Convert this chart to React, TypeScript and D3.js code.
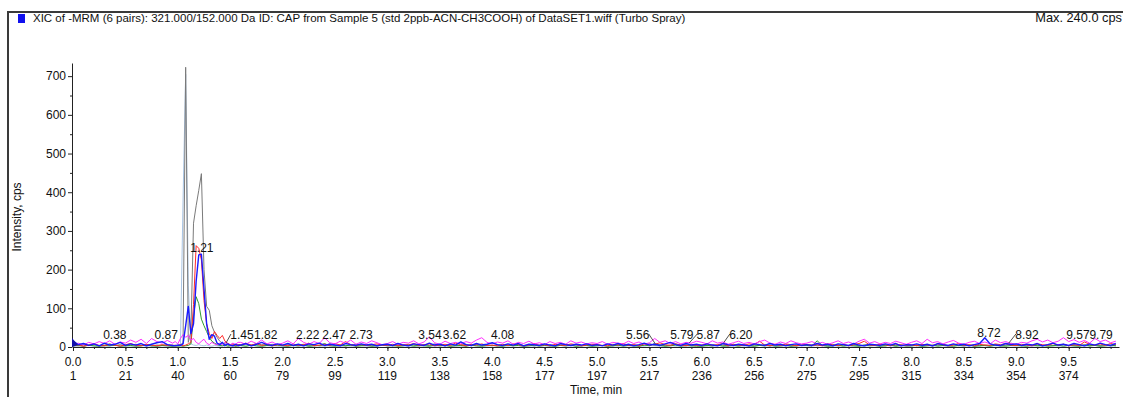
import { useEffect, useRef } from "react";
import * as d3 from "d3";

const WIDTH = 1123;
const HEIGHT = 397;

const title =
  "XIC of -MRM (6 pairs): 321.000/152.000 Da ID: CAP from Sample 5 (std 2ppb-ACN-CH3COOH) of DataSET1.wiff (Turbo Spray)";
const maxLabel = "Max. 240.0 cps";

// sampling grid (min): every other scan on the baseline, every scan across the peak
const times = [
  ...d3.range(0, 0.95, 0.05),
  ...d3.range(0.95, 1.5875, 0.025),
  ...d3.range(1.6, 9.975, 0.05),
];

// intensities, cps (lead 0.0-0.9 | peak 0.95-1.575 | tail 1.6-9.95, one row per minute)
const blue = [
  15, 6, 9, 4, 8, 3, 10, 5, 7, 12, 4, 8, 5, 9, 3, 7, 11, 14, 6,
  4, 3, 5, 4, 8, 55, 105, 35, 60, 170, 238, 240, 150, 60, 20, 32, 28, 10, 6, 12, 4, 8, 5, 3, 7, 4,
  5, 9, 3, 7, 12, 6, 4, 8,
  5, 9, 4, 7, 3, 8, 6, 10, 4, 7, 5, 3, 9, 6, 4, 8, 5, 7, 3, 6,
  7, 4, 9, 5, 3, 8, 6, 4, 10, 5, 7, 3, 8, 5, 13, 6, 4, 9, 5, 7,
  11, 6, 4, 8, 5, 9, 3, 7, 6, 4, 8, 5, 3, 9, 6, 4, 7, 5, 8, 4,
  6, 3, 8, 5, 9, 4, 7, 3, 6, 10, 5, 7, 4, 8, 12, 6, 4, 9, 5, 7,
  4, 8, 5, 3, 9, 6, 4, 7, 5, 3, 8, 6, 4, 9, 5, 7, 3, 6, 8, 4,
  6, 4, 9, 5, 7, 3, 8, 6, 4, 9, 5, 3, 7, 6, 4, 8, 5, 9, 3, 6,
  5, 8, 4, 7, 3, 9, 6, 4, 8, 5, 7, 3, 6, 9, 24, 8, 5, 4, 9, 6,
  8, 4, 7, 5, 9, 3, 6, 10, 5, 7, 4, 9, 6, 3, 8, 5, 10, 6, 4, 9,
];
const red = [
  3, 6, 2, 5, 8, 4, 3, 7, 5, 2, 6, 9, 4, 3, 7, 5, 3, 6, 4,
  5, 3, 4, 6, 3, 5, 8, 12, 110, 262, 255, 225, 120, 60, 35, 22, 40, 30, 22, 30, 15, 10, 6, 8, 4, 6,
  6, 10, 5, 8, 4, 7, 3, 6,
  5, 3, 8, 4, 6, 10, 3, 5, 7, 4, 9, 5, 14, 6, 3, 7, 4, 6, 8, 5,
  4, 7, 3, 6, 5, 9, 4, 6, 8, 3, 5, 7, 4, 10, 6, 3, 7, 5, 8, 4,
  5, 3, 7, 4, 8, 6, 3, 5, 9, 4, 6, 3, 7, 5, 4, 8, 6, 3, 5, 7,
  6, 4, 3, 7, 5, 9, 4, 6, 3, 8, 5, 7, 11, 6, 4, 8, 5, 3, 7, 4,
  5, 8, 4, 6, 9, 3, 7, 5, 4, 8, 6, 15, 5, 3, 7, 4, 8, 6, 3, 5,
  7, 4, 6, 3, 8, 5, 4, 7, 3, 6, 9, 15, 5, 4, 7, 6, 3, 8, 5, 4,
  6, 3, 7, 5, 4, 8, 6, 3, 5, 9, 4, 6, 3, 7, 5, 4, 8, 6, 9, 5,
  4, 7, 5, 3, 8, 6, 4, 9, 5, 7, 3, 6, 4, 13, 7, 5, 8, 4, 9, 6,
];
const green = [
  3, 4, 2, 5, 3, 2, 4, 3, 5, 2, 3, 4, 2, 3, 5, 3, 2, 4, 3,
  2, 3, 2, 3, 2, 3, 4, 8, 80, 130, 112, 72, 55, 40, 25, 15, 10, 6, 4, 3, 5, 2, 3, 4, 2, 3,
  4, 2, 5, 3, 2, 4, 3, 5,
  3, 2, 4, 3, 5, 2, 3, 4, 9, 3, 2, 4, 3, 5, 2, 3, 4, 2, 3, 5,
  3, 4, 2, 3, 5, 2, 4, 3, 2, 5, 3, 4, 2, 3, 4, 2, 5, 3, 2, 4,
  4, 3, 2, 5, 3, 4, 2, 3, 5, 2, 4, 3, 2, 4, 3, 5, 2, 3, 4, 2,
  3, 4, 2, 3, 5, 2, 4, 3, 2, 5, 3, 9, 4, 2, 3, 5, 2, 4, 3, 2,
  2, 4, 3, 5, 2, 3, 4, 2, 5, 3, 2, 4, 3, 5, 2, 3, 4, 2, 3, 5,
  4, 3, 16, 4, 2, 3, 5, 2, 4, 3, 2, 5, 3, 4, 2, 3, 5, 2, 4, 3,
  3, 4, 2, 3, 5, 2, 4, 3, 2, 4, 3, 5, 2, 3, 4, 2, 5, 3, 2, 4,
  4, 3, 2, 5, 3, 4, 2, 3, 5, 2, 4, 3, 2, 5, 3, 4, 2, 3, 5, 3,
];
const grey = [
  5, 3, 6, 4, 7, 3, 5, 8, 4, 6, 3, 5, 7, 4, 6, 3, 5, 4, 6,
  3, 5, 4, 6, 10, 723, 12, 40, 320, 365, 405, 448, 200, 105, 95, 55, 38, 25, 15, 10, 8, 6, 4, 6, 3, 5,
  5, 8, 4, 9, 6, 4, 7, 5,
  4, 6, 3, 5, 7, 4, 6, 3, 5, 8, 4, 6, 3, 5, 7, 4, 6, 3, 5, 4,
  6, 3, 5, 4, 7, 5, 3, 6, 4, 8, 5, 3, 6, 4, 5, 7, 3, 6, 4, 5,
  3, 6, 4, 5, 3, 7, 4, 6, 3, 5, 4, 6, 3, 5, 7, 4, 6, 3, 5, 4,
  5, 4, 6, 3, 5, 7, 4, 6, 3, 5, 9, 4, 6, 3, 5, 8, 4, 6, 3, 5,
  5, 3, 6, 4, 5, 3, 7, 4, 6, 3, 5, 4, 6, 3, 5, 4, 7, 3, 5, 4,
  4, 6, 3, 5, 4, 7, 3, 5, 4, 6, 3, 5, 7, 4, 6, 3, 5, 4, 6, 3,
  3, 5, 4, 6, 3, 5, 7, 4, 6, 3, 5, 4, 6, 3, 5, 4, 6, 3, 5, 10,
  5, 3, 6, 4, 5, 3, 6, 4, 5, 7, 3, 5, 4, 6, 3, 5, 4, 6, 3, 5,
];
const lightBlue = [
  2, 3, 2, 4, 2, 3, 2, 3, 4, 2, 3, 2, 3, 4, 2, 3, 2, 3, 2,
  2, 3, 3, 5, 380, 705, 160, 8, 5, 4, 6, 4, 3, 5, 3, 2, 4, 3, 2, 3, 2, 4, 3, 2, 3, 2,
  3, 2, 4, 3, 2, 3, 4, 2,
  2, 3, 4, 2, 3, 2, 4, 3, 2, 3, 4, 2, 3, 2, 3, 4, 2, 3, 2, 4,
  3, 2, 4, 3, 2, 3, 2, 4, 3, 2, 3, 4, 2, 3, 2, 3, 4, 2, 3, 2,
  4, 2, 3, 2, 4, 3, 2, 3, 2, 4, 3, 2, 3, 4, 2, 3, 2, 4, 3, 2,
  3, 4, 2, 3, 2, 4, 3, 2, 3, 2, 4, 3, 2, 3, 4, 2, 3, 2, 3, 4,
  2, 3, 2, 4, 3, 2, 3, 4, 2, 3, 2, 4, 3, 2, 3, 2, 4, 3, 2, 3,
  3, 2, 4, 3, 2, 3, 2, 4, 3, 2, 3, 2, 4, 3, 2, 4, 3, 2, 3, 2,
  4, 3, 2, 3, 2, 4, 3, 2, 3, 4, 2, 3, 2, 4, 3, 2, 3, 2, 4, 3,
  2, 4, 3, 2, 3, 2, 4, 3, 2, 3, 4, 2, 3, 2, 3, 4, 2, 3, 2, 3,
];
const magenta = [
  6, 10, 5, 12, 8, 14, 9, 16, 7, 13, 10, 18, 12, 20, 9, 22, 14, 10, 17,
  10, 14, 8, 22, 32, 25, 30, 18, 22, 12, 8, 15, 20, 10, 6, 12, 8, 5, 10, 6, 12, 8, 5, 10, 7, 12,
  12, 7, 15, 9, 18, 8, 13, 6,
  10, 16, 8, 22, 12, 7, 14, 9, 24, 11, 8, 15, 10, 18, 7, 13, 9, 16, 11, 6,
  9, 14, 7, 12, 10, 16, 8, 13, 26, 11, 7, 15, 9, 12, 8, 14, 10, 18, 24, 12,
  8, 13, 10, 16, 7, 12, 9, 15, 8, 11, 6, 14, 9, 12, 7, 16, 10, 13, 8, 11,
  9, 14, 7, 12, 10, 8, 15, 9, 13, 7, 11, 22, 12, 16, 9, 14, 8, 12, 10, 15,
  12, 8, 16, 10, 13, 7, 11, 15, 9, 12, 8, 14, 18, 10, 7, 13, 9, 16, 11, 8,
  10, 14, 8, 12, 7, 11, 16, 9, 13, 8, 15, 20, 10, 14, 8, 12, 9, 15, 11, 7,
  12, 16, 9, 20, 11, 14, 8, 13, 17, 10, 7, 12, 15, 9, 13, 8, 18, 11, 14, 9,
  7, 12, 10, 16, 20, 13, 18, 11, 15, 24, 14, 19, 12, 17, 10, 22, 14, 18, 11, 15,
];

const peakTimes = [
  0.38, 0.87, 1.21, 1.45, 1.82, 2.22, 2.47, 2.73, 3.54, 3.62, 4.08, 5.56, 5.79, 5.87, 6.2, 8.72, 8.92, 9.57, 9.79,
];

const yTicks = [0, 100, 200, 300, 400, 500, 600, 700];
const xTicks = [0, 0.5, 1, 1.5, 2, 2.5, 3, 3.5, 4, 4.5, 5, 5.5, 6, 6.5, 7, 7.5, 8, 8.5, 9, 9.5];
const scanLabels = [
  "1", "21", "40", "60", "79", "99", "119", "138", "158", "177",
  "197", "217", "236", "256", "275", "295", "315", "334", "354", "374",
];

// label nudges (px) where the software moved a label off its peak
const labelShift: Record<string, number> = {
  "1.45": 17, "3.54": -14, "5.56": -18, "5.87": 20, "6.20": 18, "8.92": 19,
};
const leaderLabels = ["1.45", "5.56", "5.87", "6.20", "8.92"];

export default function App() {
  const svgRef = useRef<SVGSVGElement>(null);

  useEffect(() => {
    if (!svgRef.current) return;
    const svg = d3.select(svgRef.current);
    svg.selectAll("*").remove();

    const font = "'Liberation Sans', Arial, sans-serif";
    const x = d3.scaleLinear().domain([0, 9.98]).range([73, 1119]);
    const y = d3.scaleLinear().domain([0, 734]).range([347, 63]);

    // frame
    svg
      .append("path")
      .attr("d", `M8,${HEIGHT} V12 H${WIDTH}`)
      .attr("fill", "none")
      .attr("stroke", "#3a3a3a")
      .attr("stroke-width", 2);

    // header
    svg.append("rect").attr("x", 18).attr("y", 14).attr("width", 7).attr("height", 9).attr("fill", "#1010ee");
    svg
      .append("text")
      .attr("x", 33)
      .attr("y", 22)
      .attr("font-family", font)
      .attr("font-size", 11.5)
      .attr("fill", "#111")
      .text(title);
    svg
      .append("text")
      .attr("x", 1122)
      .attr("y", 22)
      .attr("text-anchor", "end")
      .attr("font-family", font)
      .attr("font-size", 12.8)
      .attr("fill", "#111")
      .text(maxLabel);

    // y axis
    const yAxis = svg
      .append("g")
      .attr("transform", "translate(72,0)")
      .call(d3.axisLeft(y).tickValues(yTicks).tickSize(4).tickSizeOuter(0).tickPadding(2));
    svg
      .append("g")
      .attr("transform", "translate(72,0)")
      .call(d3.axisLeft(y).tickValues(d3.range(50, 750, 100)).tickSize(2).tickFormat(() => ""))
      .select(".domain")
      .remove();

    // x axis
    const xAxis = svg
      .append("g")
      .attr("transform", "translate(0,347)")
      .call(d3.axisBottom(x).tickValues(xTicks).tickSize(4).tickSizeOuter(0).tickFormat(() => ""));
    svg
      .append("g")
      .attr("transform", "translate(0,347)")
      .call(d3.axisBottom(x).tickValues(d3.range(0.1, 9.95, 0.1)).tickSize(2).tickFormat(() => ""))
      .select(".domain")
      .remove();

    [yAxis, xAxis].forEach((g) => {
      g.select(".domain").attr("stroke", "#222");
      g.selectAll("text").attr("font-family", font).attr("font-size", 12).attr("fill", "#111");
    });
    svg.selectAll("g line").attr("stroke", "#222");

    const xLabels = svg
      .append("g")
      .attr("font-family", font)
      .attr("font-size", 12)
      .attr("fill", "#111")
      .attr("text-anchor", "middle");
    xLabels
      .selectAll(".t")
      .data(xTicks)
      .join("text")
      .attr("x", (d) => x(d))
      .attr("y", 366)
      .text((d) => d.toFixed(1));
    xLabels
      .selectAll(".s")
      .data(scanLabels)
      .join("text")
      .attr("x", (_, i) => x(xTicks[i]))
      .attr("y", 380)
      .text((d) => d);
    xLabels.append("text").attr("x", 596).attr("y", 394).text("Time, min");

    svg
      .append("text")
      .attr("transform", "translate(21,217) rotate(-90)")
      .attr("text-anchor", "middle")
      .attr("font-family", font)
      .attr("font-size", 12)
      .attr("fill", "#111")
      .text("Intensity, cps");

    // traces
    const series = [
      { name: "lightBlue", color: "#a8c4e4", values: lightBlue },
      { name: "grey", color: "#7a7a7a", values: grey },
      { name: "green", color: "#2f9a2f", values: green },
      { name: "red", color: "#ff2a2a", values: red },
      { name: "magenta", color: "#ff2cff", values: magenta },
      { name: "blue", color: "#1a1aff", values: blue },
    ];
    const line = d3
      .line<number>()
      .x((_, i) => x(times[i]))
      .y((d) => y(d));
    svg
      .append("g")
      .selectAll("path")
      .data(series)
      .join("path")
      .attr("fill", "none")
      .attr("stroke", (d) => d.color)
      .attr("stroke-width", (d) => (d.name === "blue" ? 1.4 : 1))
      .attr("stroke-linejoin", "round")
      .attr("d", (d) => line(d.values));

    // start marker
    svg.append("path").attr("d", "M72,338 L72,347 L78,345 Z").attr("fill", "#1010aa");

    // peak labels
    const bis = d3.bisector((t: number) => t).right;
    const blueAt = (t: number) => {
      const i = Math.min(Math.max(bis(times, t), 1), times.length - 1);
      const k = (t - times[i - 1]) / (times[i] - times[i - 1]);
      return blue[i - 1] + k * (blue[i] - blue[i - 1]);
    };
    const labels = svg.append("g").attr("font-family", font).attr("font-size", 12).attr("fill", "#111");
    peakTimes.forEach((t) => {
      const txt = t.toFixed(2);
      const dx = labelShift[txt] ?? 2;
      const py = y(blueAt(t));
      const base = Math.min(py - 3, 339);
      labels
        .append("text")
        .attr("x", x(t) + dx)
        .attr("y", base)
        .attr("text-anchor", "middle")
        .text(txt);
      if (leaderLabels.includes(txt)) {
        const s = Math.sign(dx);
        labels
          .append("line")
          .attr("x1", x(t) + s)
          .attr("y1", Math.min(py - 1, 343))
          .attr("x2", x(t) + dx - s * 11)
          .attr("y2", base - 5)
          .attr("stroke", "#222")
          .attr("stroke-width", 0.8);
      }
    });
  }, []);

  return (
    <svg
      ref={svgRef}
      width={WIDTH}
      height={HEIGHT}
      style={{ position: "absolute", left: 0, top: 0, display: "block", background: "#fff" }}
    />
  );
}
